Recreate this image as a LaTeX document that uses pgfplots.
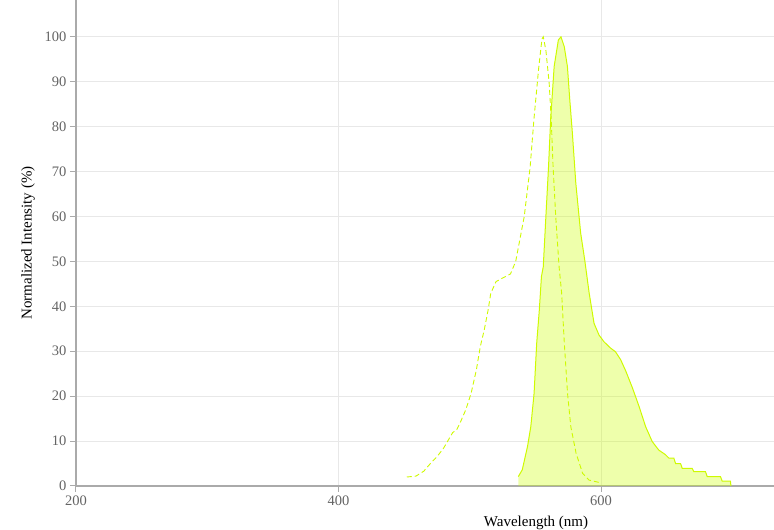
\documentclass[border=0pt]{standalone}
\usepackage{fontspec}
\setmainfont{Liberation Serif}
\usepackage{pgfplots}
\pgfplotsset{compat=1.18}

\definecolor{specLine}{RGB}{206,250,0}
\definecolor{specFill}{RGB}{204,255,0}
\definecolor{axisGray}{RGB}{170,170,170}
\definecolor{tickText}{RGB}{100,100,100}
\definecolor{gridGray}{RGB}{232,232,232}

\begin{document}
\begin{tikzpicture}[x=1pt,y=1pt]
\begin{axis}[
    at={(0,0)}, anchor=south west,
    scale only axis,
    width=698pt, height=486pt,
    xmin=200, xmax=731.8,
    ymin=0, ymax=108.2,
    axis x line=bottom, axis y line=left,
    axis line style={axisGray, line width=1.5pt, -},
    xtick={200,400,600},
    ytick={0,10,...,100},
    tick align=outside,
    major tick length=6pt,
    tick style={axisGray, line width=1pt},
    grid=major,
    grid style={gridGray, line width=0.8pt},
    ticklabel style={font=\fontsize{14.5}{16}\selectfont, text=tickText},
    /pgf/number format/assume math mode=true,
    xlabel={Wavelength (nm)},
    ylabel={Normalized Intensity (\%)},
    label style={font=\fontsize{15}{17}\selectfont},
    xlabel style={at={([yshift=-40pt]axis description cs:0.659,0)}, anchor=base},
    ylabel style={at={([xshift=-48pt]axis description cs:0,0.5)}, anchor=center},
]
% emission (filled)
\addplot[draw=none, fill=specFill, fill opacity=0.33] coordinates {
    (537,0) (537,2.1) (540,3.6) (544,8.8) (546.5,13.2) (549,20.6) (551,31.8)
    (553,39.2) (554.6,46.6) (556,48.8) (558,60) (560,71) (561.7,82)
    (564.3,93.4) (567.5,99.3) (569.5,100) (572,97.8) (574.4,93.4) (576.2,86)
    (578.2,78.5) (580.8,67.4) (584.5,56.3) (587.6,50.3) (591,42.9) (594.7,36.2)
    (598.5,33.6) (602.3,32.1) (607.3,30.7) (611,29.9) (615,28.1) (619,25.5)
    (624,21.8) (629,17.7) (634,13.2) (639,9.9) (644,8) (649,7)
    (651.7,6.2) (655.5,6.2) (656.8,5) (660.6,5) (661.9,3.9) (669.5,3.9)
    (670.7,3.2) (679.6,3.2) (680.9,2.1) (691,2.1) (692.3,1.1) (698.6,1.1)
    (699,0)
} \closedcycle;
\addplot[specLine, line width=1pt] coordinates {
    (537,2.1) (540,3.6) (544,8.8) (546.5,13.2) (549,20.6) (551,31.8)
    (553,39.2) (554.6,46.6) (556,48.8) (558,60) (560,71) (561.7,82)
    (564.3,93.4) (567.5,99.3) (569.5,100) (572,97.8) (574.4,93.4) (576.2,86)
    (578.2,78.5) (580.8,67.4) (584.5,56.3) (587.6,50.3) (591,42.9) (594.7,36.2)
    (598.5,33.6) (602.3,32.1) (607.3,30.7) (611,29.9) (615,28.1) (619,25.5)
    (624,21.8) (629,17.7) (634,13.2) (639,9.9) (644,8) (649,7)
    (651.7,6.2) (655.5,6.2) (656.8,5) (660.6,5) (661.9,3.9) (669.5,3.9)
    (670.7,3.2) (679.6,3.2) (680.9,2.1) (691,2.1) (692.3,1.1) (698.6,1.1)
    (699,0)
};
% excitation (dashed)
\addplot[specLine, line width=0.9pt, dash pattern=on 5pt off 3pt] coordinates {
    (452,2) (459,2.2) (465,3.3) (470,5) (475,6.5) (480,8.4) (487,11.9)
    (490,12.5) (493,14.3) (497,17) (501,20.6) (505,25.8) (508,31) (511,34.7)
    (514,39.2) (516,42.9) (520,45.5) (525,46.3) (531,47.2) (535,50)
    (541.5,60) (546,71) (549,82) (552.5,93) (555,99.5) (556,100) (558,97)
    (560.5,89.7) (562,82) (563.5,71) (565.5,60) (568,49) (570,43) (572,32)
    (574.5,20.6) (577,13.2) (581,7.3) (586,2.8) (591,1.3) (598.5,0.8)
};
\end{axis}
\pgfresetboundingbox
\path[use as bounding box] (-76,-44) rectangle (698,486);
\end{tikzpicture}
\end{document}
